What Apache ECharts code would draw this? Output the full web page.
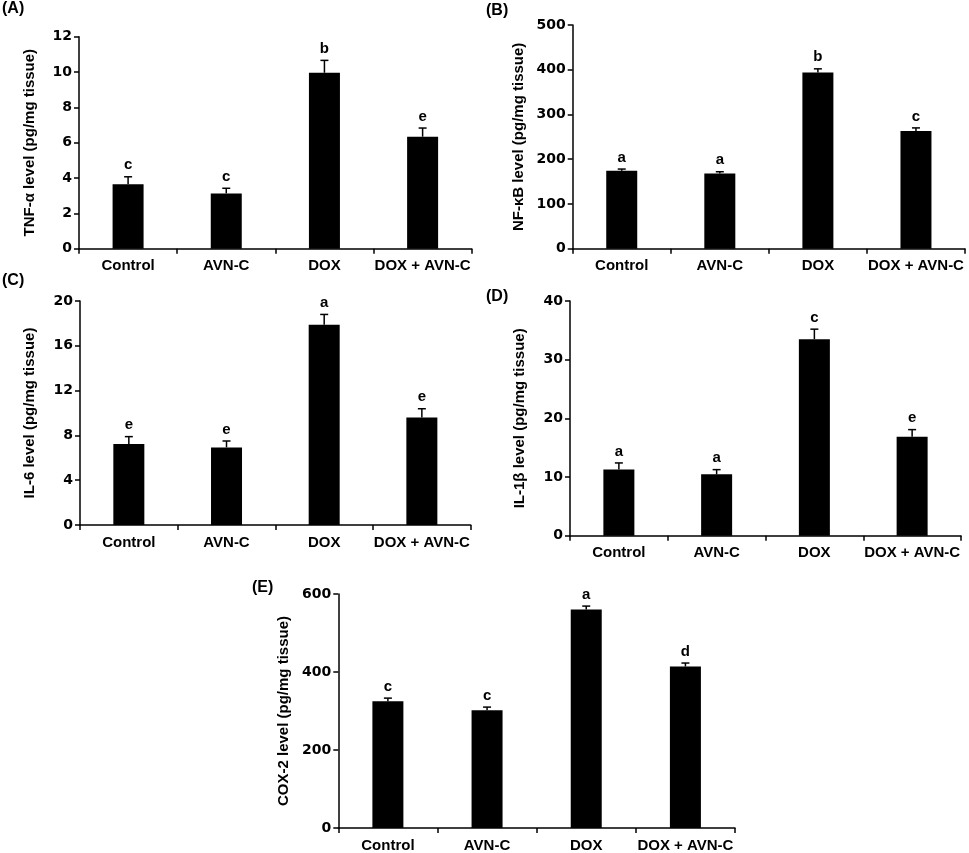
<!DOCTYPE html>
<html>
<head>
<meta charset="utf-8">
<script src="https://cdn.jsdelivr.net/npm/echarts@6/dist/echarts.min.js"></script>
<style>
  html, body { margin: 0; padding: 0; background: #fff; }
  #main { width: 969px; height: 853px; }
</style>
</head>
<body>
<div id="main"></div>
<script>
    // groups on every x axis
    var groups = ['Control', 'AVN-C', 'DOX', 'DOX + AVN-C'];

    // (A) TNF-alpha
    var tnfMean = [3.65, 3.13, 9.96, 6.34];
    var tnfErr = [0.42, 0.29, 0.70, 0.49];
    var tnfSig = ['c', 'c', 'b', 'e'];

    // (B) NF-kB
    var nfkbMean = [174, 168, 394, 263];
    var nfkbErr = [4, 4, 8, 7];
    var nfkbSig = ['a', 'a', 'b', 'c'];

    // (C) IL-6
    var il6Mean = [7.23, 6.93, 17.88, 9.60];
    var il6Err = [0.66, 0.57, 0.92, 0.78];
    var il6Sig = ['e', 'e', 'a', 'e'];

    // (D) IL-1beta
    var il1bMean = [11.3, 10.46, 33.5, 16.88];
    var il1bErr = [1.1, 0.8, 1.7, 1.2];
    var il1bSig = ['a', 'a', 'c', 'e'];

    // (E) COX-2
    var coxMean = [325, 302, 560, 414];
    var coxErr = [8, 8, 9, 9];
    var coxSig = ['c', 'c', 'a', 'd'];

    var FONT = '"Liberation Sans", Arial, sans-serif';
    var TICKFONT = '"DejaVu Sans", Verdana, sans-serif';

    var panels = [
        { tag: '(A)', name: 'TNF-\u03b1 level (pg/mg tissue)', mean: tnfMean, err: tnfErr, sig: tnfSig,
          max: 12, step: 2, grid: { left: 79, top: 36.7, width: 392.7, height: 212 }, gap: 42, tagPos: [2, 1] },
        { tag: '(B)', name: 'NF-\u03baB level (pg/mg tissue)', mean: nfkbMean, err: nfkbErr, sig: nfkbSig,
          max: 500, step: 100, grid: { left: 572.7, top: 25, width: 392.3, height: 223.7 }, gap: 46, tagPos: [486, 3] },
        { tag: '(C)', name: 'IL-6 level (pg/mg tissue)', mean: il6Mean, err: il6Err, sig: il6Sig,
          max: 20, step: 4, grid: { left: 80, top: 301, width: 390.7, height: 224 }, gap: 43, tagPos: [2, 273] },
        { tag: '(D)', name: 'IL-1\u03b2 level (pg/mg tissue)', mean: il1bMean, err: il1bErr, sig: il1bSig,
          max: 40, step: 10, grid: { left: 570, top: 301, width: 391, height: 234.7 }, gap: 43, tagPos: [486, 289] },
        { tag: '(E)', name: 'COX-2 level (pg/mg tissue)', mean: coxMean, err: coxErr, sig: coxSig,
          max: 600, step: 200, grid: { left: 338.3, top: 594, width: 396.7, height: 234.3 }, gap: 47, tagPos: [252, 580] }
    ];

    // upper whisker with cap, significance letter above it
    function makeErrRender(sig) {
        return function(params, api) {
            var base = api.coord([api.value(0), api.value(1)]);
            var top = api.coord([api.value(0), api.value(2)]);
            var cap = 4;
            return {
                type: 'group',
                children: [
                    { type: 'line', shape: { x1: top[0], y1: base[1], x2: top[0], y2: top[1] },
                      style: { stroke: '#000', lineWidth: 1.5 } },
                    { type: 'line', shape: { x1: top[0] - cap, y1: top[1], x2: top[0] + cap, y2: top[1] },
                      style: { stroke: '#000', lineWidth: 1.5 } },
                    { type: 'text', style: { text: sig[params.dataIndex], x: top[0], y: top[1] - 4,
                      align: 'center', verticalAlign: 'bottom',
                      font: 'bold 15px ' + FONT, fill: '#000' } }
                ]
            };
        };
    }

    var option = {
        backgroundColor: '#fff',
        animation: false,
        textStyle: { fontFamily: FONT },
        grid: [],
        xAxis: [],
        yAxis: [],
        series: [],
        graphic: []
    };

    panels.forEach(function(p, i) {
        option.grid.push(p.grid);
        option.xAxis.push({
            gridIndex: i,
            type: 'category',
            data: groups,
            axisLine: { lineStyle: { color: '#000', width: 1.5 } },
            axisTick: { show: true, length: 5, lineStyle: { color: '#000', width: 1.5 } },
            axisLabel: { color: '#000', fontWeight: 'bold', fontSize: 15, margin: 10, interval: 0 }
        });
        option.yAxis.push({
            gridIndex: i,
            type: 'value',
            min: 0,
            max: p.max,
            interval: p.step,
            name: p.name,
            nameLocation: 'middle',
            nameRotate: 90,
            nameGap: p.gap,
            nameTextStyle: { color: '#000', fontWeight: 'bold', fontSize: 15 },
            axisLine: { show: true, lineStyle: { color: '#000', width: 1.5 } },
            axisTick: { show: true, length: 5, lineStyle: { color: '#000', width: 1.5 } },
            axisLabel: { color: '#000', fontWeight: 'bold', fontSize: 14, margin: 7, fontFamily: TICKFONT },
            splitLine: { show: false }
        });
        option.series.push({
            type: 'bar',
            xAxisIndex: i,
            yAxisIndex: i,
            barWidth: 31,
            itemStyle: { color: '#000' },
            data: p.mean
        });
        option.series.push({
            type: 'custom',
            xAxisIndex: i,
            yAxisIndex: i,
            renderItem: makeErrRender(p.sig),
            encode: { x: 0, y: [1, 2] },
            z: 3,
            data: p.mean.map(function(m, k) {
                return [k, m, m + p.err[k]];
            })
        });
        option.graphic.push({
            type: 'text',
            left: p.tagPos[0],
            top: p.tagPos[1],
            style: { text: p.tag, font: 'bold 16px ' + FONT, fill: '#000' }
        });
    });

    var myChart = echarts.init(document.getElementById('main'));
    myChart.setOption(option);
</script>
</body>
</html>
